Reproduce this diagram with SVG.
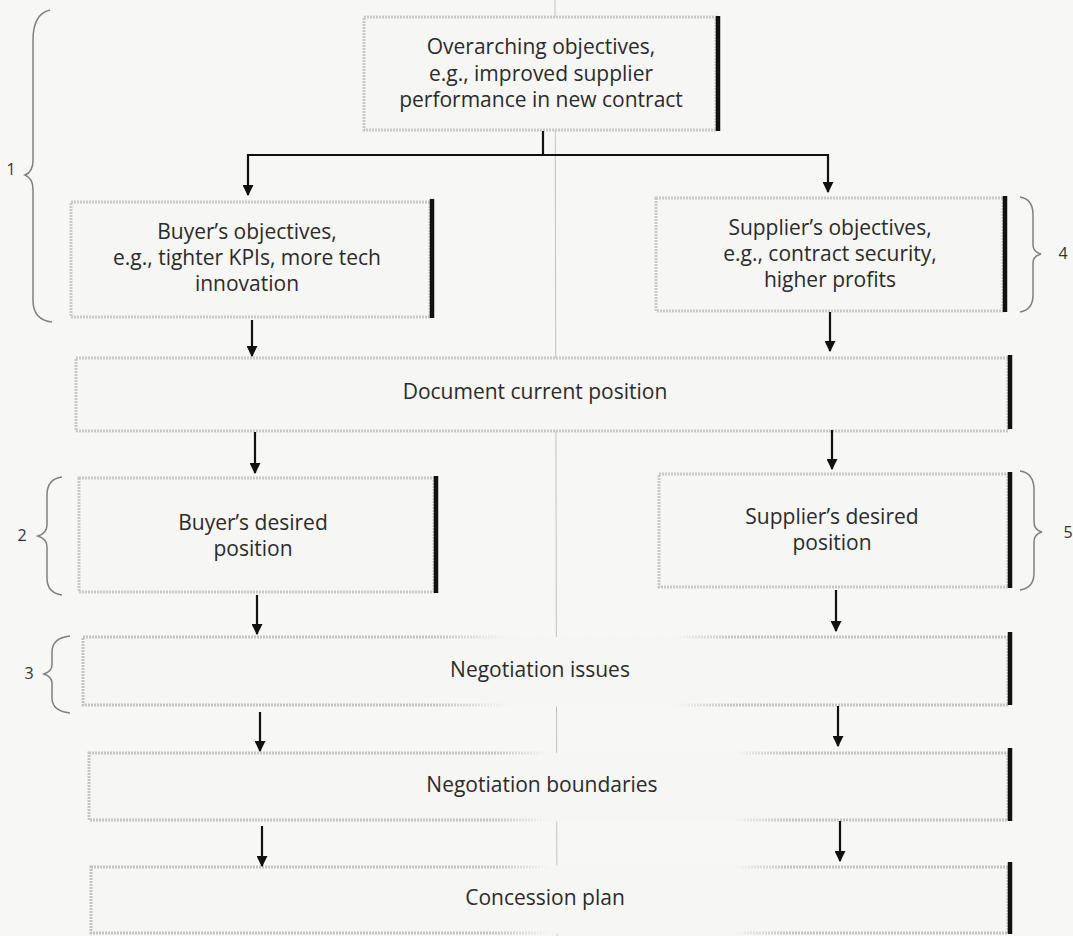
<svg xmlns="http://www.w3.org/2000/svg" width="1073" height="936" viewBox="0 0 1073 936">
  <defs>
    <style>
      .box { fill: #f6f6f4; stroke: #c9c9c6; stroke-width: 3; stroke-dasharray: 2 1; }
      .wide { fill: #f6f6f4; stroke-width: 3; stroke-dasharray: 2 1; }
      .bar { stroke: #111; stroke-width: 4.5; }
      .lbl { font-family: "Open Sans", "Noto Sans", sans-serif; font-size: 21px; fill: #2b2b2b; text-anchor: middle; }
      .num { font-family: "Open Sans", "Noto Sans", sans-serif; font-size: 16px; fill: #333; text-anchor: middle; }
      .conn { stroke: #111; stroke-width: 2.2; fill: none; }
      .brace { stroke: #808080; stroke-width: 1.5; fill: none; }
    </style>
    <marker id="arrow" viewBox="0 0 10 10" refX="9" refY="5" markerWidth="5" markerHeight="5" orient="auto" markerUnits="strokeWidth">
      <path d="M0,0 L10,5 L0,10 z" fill="#111"/>
    </marker>
    <!-- border that fades out across the middle of the wide boxes -->
    <linearGradient id="fade1" x1="0" y1="0" x2="1" y2="0">
      <stop offset="0" stop-color="#c4c4c1"/>
      <stop offset="0.38" stop-color="#c4c4c1"/>
      <stop offset="0.46" stop-color="#f6f6f4"/>
      <stop offset="0.64" stop-color="#f6f6f4"/>
      <stop offset="0.7" stop-color="#c4c4c1"/>
      <stop offset="1" stop-color="#c4c4c1"/>
    </linearGradient>
    <linearGradient id="fade2" x1="0" y1="0" x2="1" y2="0">
      <stop offset="0" stop-color="#c4c4c1"/>
      <stop offset="0.44" stop-color="#c4c4c1"/>
      <stop offset="0.5" stop-color="#f6f6f4"/>
      <stop offset="0.7" stop-color="#f6f6f4"/>
      <stop offset="0.76" stop-color="#c4c4c1"/>
      <stop offset="1" stop-color="#c4c4c1"/>
    </linearGradient>
  </defs>

  <rect width="1073" height="936" fill="#f7f7f5"/>
  <!-- page crease -->
  <line x1="555" y1="0" x2="557" y2="936" stroke="#c2c2c0" stroke-width="1"/>

  <g id="overarching">
    <rect class="box" x="364" y="17" width="352" height="113"/>
    <line class="bar" x1="718" y1="16" x2="718" y2="131"/>
    <text class="lbl" x="541" y="54">Overarching objectives,</text>
    <text class="lbl" x="541" y="81">e.g., improved supplier</text>
    <text class="lbl" x="541" y="107">performance in new contract</text>
  </g>

  <g id="buyer-objectives">
    <rect class="box" x="71" y="202" width="359" height="115"/>
    <line class="bar" x1="432" y1="199" x2="432" y2="318"/>
    <text class="lbl" x="247" y="239">Buyer’s objectives,</text>
    <text class="lbl" x="247" y="265">e.g., tighter KPIs, more tech</text>
    <text class="lbl" x="247" y="291">innovation</text>
  </g>

  <g id="supplier-objectives">
    <rect class="box" x="656" y="198" width="347" height="113"/>
    <line class="bar" x1="1005" y1="196" x2="1005" y2="312"/>
    <text class="lbl" x="830" y="235">Supplier’s objectives,</text>
    <text class="lbl" x="830" y="261">e.g., contract security,</text>
    <text class="lbl" x="830" y="287">higher profits</text>
  </g>

  <g id="current-position">
    <rect class="box" x="76" y="358" width="932" height="73"/>
    <line class="bar" x1="1010" y1="355" x2="1010" y2="429"/>
    <text class="lbl" x="535" y="399">Document current position</text>
  </g>

  <g id="buyer-desired">
    <rect class="box" x="79" y="478" width="355" height="114"/>
    <line class="bar" x1="436" y1="476" x2="436" y2="593"/>
    <text class="lbl" x="253" y="530">Buyer’s desired</text>
    <text class="lbl" x="253" y="556">position</text>
  </g>

  <g id="supplier-desired">
    <rect class="box" x="659" y="474" width="349" height="113"/>
    <line class="bar" x1="1010" y1="472" x2="1010" y2="588"/>
    <text class="lbl" x="832" y="524">Supplier’s desired</text>
    <text class="lbl" x="832" y="550">position</text>
  </g>

  <g id="negotiation-issues">
    <rect class="wide" x="83" y="637" width="925" height="68" stroke="url(#fade1)"/>
    <line class="bar" x1="1010" y1="632" x2="1010" y2="705"/>
    <text class="lbl" x="540" y="677">Negotiation issues</text>
  </g>

  <g id="negotiation-boundaries">
    <rect class="wide" x="89" y="753" width="919" height="67" stroke="url(#fade2)"/>
    <line class="bar" x1="1010" y1="748" x2="1010" y2="821"/>
    <text class="lbl" x="542" y="792">Negotiation boundaries</text>
  </g>

  <g id="concession-plan">
    <rect class="wide" x="91" y="867" width="917" height="66" stroke="url(#fade2)"/>
    <line class="bar" x1="1010" y1="862" x2="1010" y2="934"/>
    <text class="lbl" x="545" y="905">Concession plan</text>
  </g>

  <g id="braces">
    <path class="brace" d="M50,10 Q33,14 33,40 L33,160 Q33,172 25,175 Q33,178 33,190 L33,300 Q33,320 52,322"/>
    <text class="num" x="11" y="175">1</text>
    <path class="brace" d="M1020,197 Q1033,199 1033,215 L1033,245 Q1033,252 1041,254 Q1033,256 1033,263 L1033,295 Q1033,310 1020,312"/>
    <text class="num" x="1063" y="259">4</text>
    <path class="brace" d="M62,477 Q47,479 47,495 L47,525 Q47,533 38,536 Q47,539 47,547 L47,578 Q47,593 62,595"/>
    <text class="num" x="22" y="541">2</text>
    <path class="brace" d="M1020,471 Q1034,473 1034,490 L1034,522 Q1034,530 1042,532 Q1034,534 1034,542 L1034,573 Q1034,588 1020,590"/>
    <text class="num" x="1068" y="538">5</text>
    <path class="brace" d="M70,636 Q52,638 52,652 L52,665 Q52,671 44,674 Q52,677 52,683 L52,698 Q52,711 70,713"/>
    <text class="num" x="29" y="679">3</text>
  </g>

  <g id="connectors">
    <path class="conn" d="M543,131 L543,155"/>
    <path class="conn" d="M248,155 L828,155"/>
    <path class="conn" d="M248,154 L248,195" marker-end="url(#arrow)"/>
    <path class="conn" d="M828,154 L828,192" marker-end="url(#arrow)"/>
    <path class="conn" d="M252,320 L252,356" marker-end="url(#arrow)"/>
    <path class="conn" d="M830,312 L830,351" marker-end="url(#arrow)"/>
    <path class="conn" d="M255,432 L255,473" marker-end="url(#arrow)"/>
    <path class="conn" d="M832,430 L832,469" marker-end="url(#arrow)"/>
    <path class="conn" d="M257,595 L257,634" marker-end="url(#arrow)"/>
    <path class="conn" d="M836,590 L836,631" marker-end="url(#arrow)"/>
    <path class="conn" d="M260,712 L260,751" marker-end="url(#arrow)"/>
    <path class="conn" d="M838,706 L838,746" marker-end="url(#arrow)"/>
    <path class="conn" d="M262,826 L262,866" marker-end="url(#arrow)"/>
    <path class="conn" d="M840,821 L840,861" marker-end="url(#arrow)"/>
  </g>
</svg>
